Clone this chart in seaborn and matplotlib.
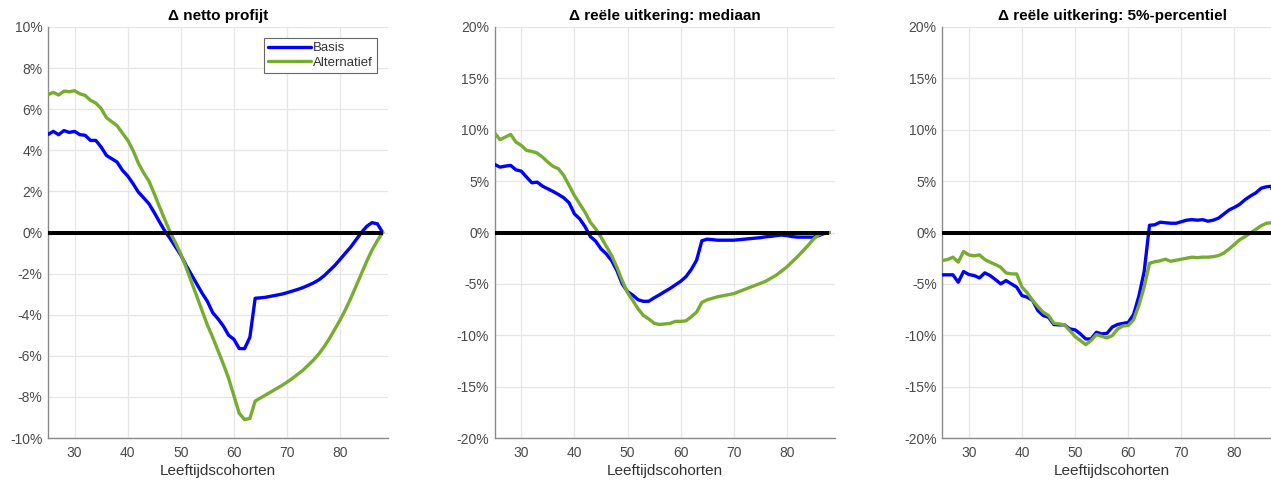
import numpy as np
import pandas as pd
import matplotlib
matplotlib.use("Agg")
import matplotlib.pyplot as plt
import seaborn as sns

# ---------------- data ----------------
ages = list(range(25, 89))
series_names = ["Basis", "Alternatief"]

titles = ["\u0394 netto profijt",
          "\u0394 reële uitkering: mediaan",
          "\u0394 reële uitkering: 5%-percentiel"]
x_label = "Leeftijdscohorten"
x_ticks = [30, 40, 50, 60, 70, 80]
y_ticks_1 = [-10, -8, -6, -4, -2, 0, 2, 4, 6, 8, 10]
y_ticks_23 = [-20, -15, -10, -5, 0, 5, 10, 15, 20]

netto_basis = [
    4.77, 4.92, 4.76, 4.96, 4.87, 4.92, 4.76, 4.73,
    4.48, 4.48, 4.16, 3.75, 3.59, 3.43, 3.03, 2.75,
    2.38, 1.97, 1.69, 1.40, 0.97, 0.51, 0.07, -0.30,
    -0.70, -1.10, -1.60, -2.05, -2.50, -2.95, -3.35, -3.90,
    -4.20, -4.55, -5.00, -5.20, -5.65, -5.65, -5.10, -3.20,
    -3.18, -3.15, -3.10, -3.05, -3.00, -2.93, -2.85, -2.77,
    -2.68, -2.57, -2.45, -2.30, -2.10, -1.85, -1.60, -1.30,
    -1.00, -0.70, -0.35, 0.00, 0.30, 0.48, 0.42, 0.00]
netto_alt = [
    6.71, 6.82, 6.69, 6.88, 6.85, 6.90, 6.75, 6.67,
    6.43, 6.30, 6.03, 5.59, 5.39, 5.20, 4.84, 4.49,
    4.00, 3.38, 2.90, 2.50, 1.89, 1.24, 0.62, 0.02,
    -0.50, -1.05, -1.70, -2.40, -3.10, -3.80, -4.50, -5.10,
    -5.75, -6.40, -7.10, -7.95, -8.80, -9.10, -9.05, -8.20,
    -8.05, -7.90, -7.75, -7.60, -7.45, -7.28, -7.10, -6.90,
    -6.70, -6.45, -6.20, -5.90, -5.55, -5.15, -4.70, -4.25,
    -3.75, -3.20, -2.60, -2.00, -1.40, -0.85, -0.40, 0.00]

mediaan_basis = [
    6.62, 6.36, 6.46, 6.53, 6.10, 5.97, 5.39, 4.84,
    4.90, 4.51, 4.25, 3.99, 3.70, 3.38, 2.89, 1.82,
    1.33, 0.58, -0.39, -0.84, -1.59, -2.08, -2.73, -3.70,
    -5.00, -5.75, -6.10, -6.55, -6.70, -6.69, -6.36, -6.07,
    -5.75, -5.45, -5.10, -4.75, -4.30, -3.60, -2.70, -0.80,
    -0.65, -0.70, -0.75, -0.75, -0.75, -0.75, -0.70, -0.65,
    -0.60, -0.55, -0.50, -0.42, -0.38, -0.30, -0.25, -0.30,
    -0.40, -0.45, -0.45, -0.45, -0.45, -0.30, -0.10, 0.00]
mediaan_alt = [
    9.68, 9.03, 9.29, 9.55, 8.80, 8.47, 7.99, 7.89,
    7.73, 7.34, 6.85, 6.43, 6.20, 5.55, 4.58, 3.60,
    2.79, 1.98, 1.00, 0.36, -0.45, -1.33, -2.24, -3.38,
    -4.68, -5.85, -6.62, -7.44, -8.08, -8.41, -8.83, -8.95,
    -8.90, -8.85, -8.65, -8.65, -8.60, -8.20, -7.75, -6.80,
    -6.55, -6.40, -6.25, -6.15, -6.05, -5.95, -5.75, -5.55,
    -5.35, -5.15, -4.95, -4.75, -4.45, -4.15, -3.75, -3.35,
    -2.85, -2.35, -1.80, -1.25, -0.65, -0.20, -0.05, 0.00]

p5_basis = [
    -4.12, -4.12, -4.12, -4.84, -3.80, -4.09, -4.19, -4.42,
    -3.93, -4.19, -4.58, -5.00, -4.68, -5.00, -5.32, -6.14,
    -6.30, -6.62, -7.60, -8.08, -8.25, -8.96, -8.99, -8.99,
    -9.38, -9.48, -9.87, -10.36, -10.36, -9.71, -9.87, -9.81,
    -9.20, -8.95, -8.85, -8.75, -8.00, -6.20, -3.80, 0.70,
    0.75, 1.00, 0.95, 0.90, 0.90, 1.05, 1.20, 1.25,
    1.20, 1.25, 1.10, 1.20, 1.40, 1.80, 2.20, 2.45,
    2.75, 3.20, 3.55, 3.85, 4.30, 4.45, 4.50, 0.00]
p5_alt = [
    -2.73, -2.63, -2.40, -2.89, -1.85, -2.18, -2.27, -2.18,
    -2.63, -2.89, -3.12, -3.38, -3.93, -4.03, -4.03, -5.32,
    -5.88, -6.62, -7.21, -7.76, -8.08, -8.83, -8.90, -8.99,
    -9.55, -10.13, -10.52, -10.91, -10.52, -9.94, -10.10, -10.26,
    -10.03, -9.40, -9.10, -9.05, -8.50, -7.10, -5.30, -3.00,
    -2.85, -2.75, -2.60, -2.80, -2.70, -2.60, -2.50, -2.40,
    -2.45, -2.40, -2.40, -2.35, -2.25, -2.00, -1.60, -1.15,
    -0.70, -0.40, -0.05, 0.30, 0.65, 0.90, 0.95, 0.00]

panels = [
    (netto_basis, netto_alt, y_ticks_1),
    (mediaan_basis, mediaan_alt, y_ticks_23),
    (p5_basis, p5_alt, y_ticks_23),
]

# ---------------- style ----------------
sns.set_style("white")
plt.rcParams["font.family"] = ["Liberation Sans", "DejaVu Sans"]

palette = {"Basis": "#0000FF", "Alternatief": "#77AC30"}
grid_col = "#e6e6e6"
axis_col = "#8a8a8a"
text_col = "#4a4a4a"

W, H = 1271, 480
fig = plt.figure(figsize=(W / 100, H / 100), dpi=100)

ax_lefts = [48, 494.7, 942.3]
ax_w, ax_top, ax_bottom = 340, 27, 438

for i, (basis, alt, yt) in enumerate(panels):
    ax = fig.add_axes([ax_lefts[i] / W, 1 - ax_bottom / H, ax_w / W, (ax_bottom - ax_top) / H])
    df = pd.DataFrame({
        "age": ages + ages,
        "value": list(basis) + list(alt),
        "serie": [series_names[0]] * len(ages) + [series_names[1]] * len(ages),
    })
    sns.lineplot(data=df, x="age", y="value", hue="serie", hue_order=series_names,
                 palette=palette, linewidth=2.4, errorbar=None, ax=ax,
                 legend=(i == 0), zorder=3)
    ax.plot([ages[0], ages[-1]], [0, 0], color="black", lw=2.9, zorder=4,
            solid_capstyle="butt")

    ax.set_xlim(25, 89)
    ax.set_ylim(yt[0], yt[-1])
    ax.set_xticks(x_ticks)
    ax.set_xticklabels([str(t) for t in x_ticks])
    ax.set_yticks(yt)
    ax.set_yticklabels([f"{t:g}%" for t in yt])
    ax.grid(True, color=grid_col, linewidth=0.9)
    ax.set_axisbelow(True)
    for s in ["top", "right"]:
        ax.spines[s].set_visible(False)
    for s in ["left", "bottom"]:
        ax.spines[s].set_color(axis_col)
        ax.spines[s].set_linewidth(1.0)
    ax.tick_params(axis="both", direction="in", length=3, width=0.8,
                   color=axis_col, labelcolor=text_col, labelsize=10)
    ax.tick_params(axis="x", pad=6)
    ax.tick_params(axis="y", pad=4)
    ax.set_xlabel(x_label, fontsize=11, color="#333333", labelpad=3)
    ax.set_ylabel("")
    ax.set_title(titles[i], fontsize=11, fontweight="bold", color="black", pad=5)

    if i == 0:
        handles, labels = ax.get_legend_handles_labels()
        leg = ax.legend(handles[:2], labels[:2], loc="upper right",
                        bbox_to_anchor=((377 - 48) / ax_w, (ax_bottom - 38) / (ax_bottom - ax_top)),
                        borderaxespad=0, fontsize=9.5, frameon=True, fancybox=False,
                        edgecolor="#666666", framealpha=1, handlelength=3.2,
                        handletextpad=0.2, borderpad=0.3, labelspacing=0.2)
        leg.get_frame().set_linewidth(0.8)
        for t in leg.get_texts():
            t.set_color("#333333")

fig.savefig("out.png", dpi=100)
